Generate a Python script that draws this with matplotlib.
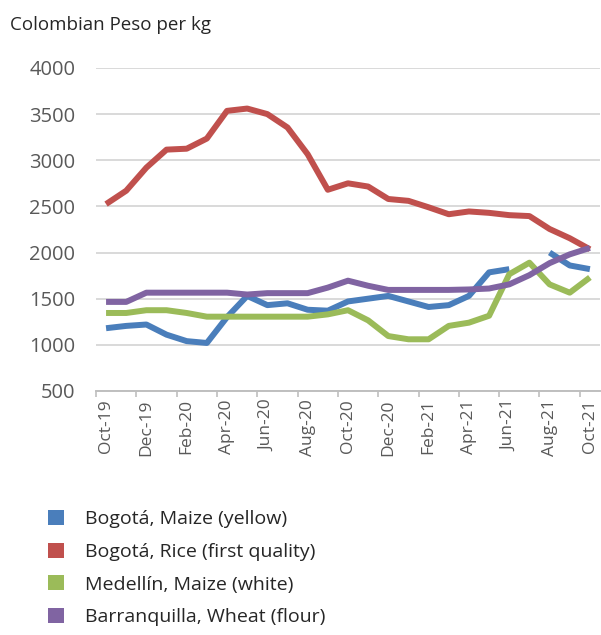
import numpy as np
import matplotlib.pyplot as plt
from matplotlib.patches import Patch

plt.rcParams['font.family'] = ['Open Sans', 'DejaVu Sans']

# monthly prices, Oct-19 .. Oct-21
months = ['Oct-19', 'Nov-19', 'Dec-19', 'Jan-20', 'Feb-20', 'Mar-20', 'Apr-20',
          'May-20', 'Jun-20', 'Jul-20', 'Aug-20', 'Sep-20', 'Oct-20', 'Nov-20',
          'Dec-20', 'Jan-21', 'Feb-21', 'Mar-21', 'Apr-21', 'May-21', 'Jun-21',
          'Jul-21', 'Aug-21', 'Sep-21', 'Oct-21']

bogota_maize = [1180, 1205, 1220, 1110, 1040, 1020, 1300, 1530, 1430, 1450,
                1380, 1370, 1470, 1500, 1530, 1470, 1410, 1430, 1530, 1785,
                1820, np.nan, 2000, 1860, 1820]
bogota_rice = [2525, 2670, 2920, 3115, 3125, 3235, 3535, 3560, 3500, 3355,
               3065, 2680, 2750, 2715, 2580, 2560, 2490, 2415, 2445, 2430,
               2405, 2395, 2255, 2155, 2035]
medellin_maize = [1345, 1345, 1375, 1375, 1345, 1305, 1305, 1305, 1305, 1305,
                  1305, 1330, 1375, 1265, 1095, 1060, 1060, 1205, 1240, 1315,
                  1765, 1890, 1655, 1565, 1730]
barranquilla_wheat = [1465, 1465, 1565, 1565, 1565, 1565, 1565, 1545, 1560, 1560,
                      1560, 1620, 1695, 1640, 1595, 1595, 1595, 1595, 1600, 1610,
                      1655, 1755, 1885, 1980, 2050]

series = [
    ('Bogotá, Maize (yellow)', bogota_maize, '#4a7ebb'),
    ('Bogotá, Rice (first quality)', bogota_rice, '#c0504d'),
    ('Medellín, Maize (white)', medellin_maize, '#9bbb59'),
    ('Barranquilla, Wheat (flour)', barranquilla_wheat, '#8064a2'),
]

fig = plt.figure(figsize=(6.01, 6.35), dpi=100)
ax = fig.add_axes([0.1597, 0.3843, 0.8386, 0.5087])

x = np.arange(len(months))
for name, vals, color in series:
    ax.plot(x, vals, color=color, linewidth=4.3, solid_joinstyle='round',
            solid_capstyle='butt')

ax.set_xlim(-0.5, len(months) - 0.5)
ax.set_ylim(500, 4000)
ax.set_yticks(np.arange(500, 4001, 500))
ax.yaxis.grid(True, color='#d9d9d9', linewidth=1.4)
ax.set_axisbelow(True)
ax.tick_params(axis='y', length=0, pad=15, labelsize=14.5, labelcolor='#595959')

ax.set_xticks(x[::2])
ax.set_xticklabels(months[::2], rotation=90)
ax.tick_params(axis='x', length=0, pad=6, labelsize=12.5, labelcolor='#595959')
ax.set_xticks(np.arange(-0.5, len(months), 2), minor=True)
ax.tick_params(axis='x', which='minor', length=4, width=1.2, color='#bfbfbf')

for side in ['left', 'right', 'top']:
    ax.spines[side].set_visible(False)
ax.spines['bottom'].set_color('#bfbfbf')
ax.spines['bottom'].set_linewidth(1.4)

fig.text(0.017, 0.96, 'Colombian Peso per kg', fontsize=13.5, color='#262626',
         va='center', ha='left')

handles = [Patch(facecolor=c, edgecolor='none', label=n) for n, _, c in series]
fig.legend(handles=handles, loc='upper left', bbox_to_anchor=(0.08, 0.197),
           frameon=False, fontsize=14, handlelength=0.8, handleheight=0.8,
           handletextpad=1.1, labelspacing=0.75, labelcolor='#262626',
           borderaxespad=0, borderpad=0)

plt.savefig('out.png', dpi=100)
